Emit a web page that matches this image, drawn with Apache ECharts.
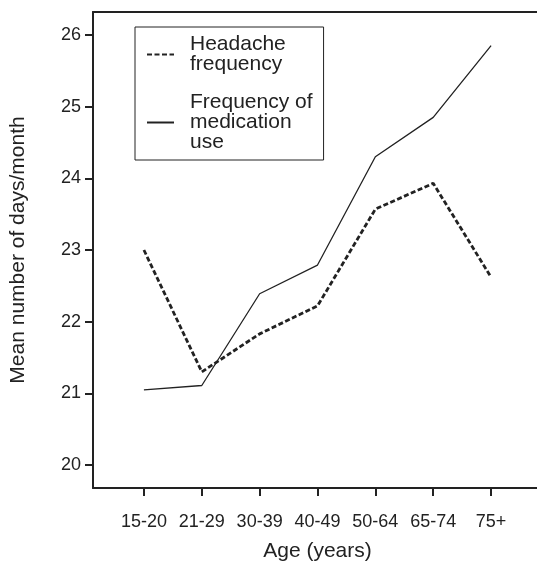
<!DOCTYPE html>
<html>
<head>
<meta charset="utf-8">
<title>Headache and medication by age</title>
<script src="https://cdn.jsdelivr.net/npm/echarts@6/dist/echarts.min.js"></script>
<style>
  html, body { margin: 0; padding: 0; background: #fff; }
  #main { width: 537px; height: 561px; }
</style>
</head>
<body>
<div id="main"></div>
<script>
// data
var ageGroups = ['15-20', '21-29', '30-39', '40-49', '50-64', '65-74', '75+'];
var headacheFreq = [23.0, 21.30, 21.83, 22.22, 23.57, 23.93, 22.62];
var medicationFreq = [21.05, 21.11, 22.39, 22.79, 24.30, 24.85, 25.85];
var yTicks = [20, 21, 22, 23, 24, 25, 26];

var font = "'Liberation Sans', Arial, sans-serif";
var ink = '#222';

function toPoints(values) {
    return values.map(function (v, i) { return [i, v]; });
}
var xTicks = ageGroups.map(function (c, i) { return i; });

var chartDom = document.getElementById('main');
var myChart = echarts.init(chartDom);

var option = {
    animation: false,
    color: [ink, ink],
    textStyle: { fontFamily: font, color: ink },
    grid: {
        left: 93,
        top: 12,
        width: 449,
        height: 476,
        outerBoundsMode: 'none',
        containLabel: false
    },
    legend: {
        orient: 'vertical',
        left: 135,
        top: 27,
        padding: [7, 11, 7, 11],
        itemGap: 17,
        itemWidth: 27,
        itemHeight: 14,
        borderColor: ink,
        borderWidth: 1,
        itemStyle: { opacity: 0 },
        textStyle: { fontSize: 21, lineHeight: 20, color: ink, padding: [0, 0, 0, 11] },
        data: ['Headache frequency', 'Frequency of medication use'],
        formatter: function (name) {
            return name === 'Headache frequency' ? 'Headache\nfrequency' : 'Frequency of\nmedication\nuse';
        }
    },
    xAxis: [{
        type: 'value',
        min: -0.88,
        max: 6.88,
        name: 'Age (years)',
        nameLocation: 'middle',
        nameGap: 53,
        nameTextStyle: { fontSize: 21, color: ink },
        axisLine: { onZero: false, lineStyle: { color: ink, width: 2 } },
        axisTick: { customValues: xTicks, length: 8, lineStyle: { color: ink, width: 2 } },
        axisLabel: {
            customValues: xTicks,
            fontSize: 18,
            color: ink,
            margin: 25,
            formatter: function (v) { return ageGroups[Math.round(v)]; }
        },
        splitLine: { show: false }
    }, {
        // top frame line only
        type: 'value',
        position: 'top',
        min: -0.88,
        max: 6.88,
        axisLine: { onZero: false, lineStyle: { color: ink, width: 2 } },
        axisTick: { show: false },
        axisLabel: { show: false },
        splitLine: { show: false }
    }],
    yAxis: {
        type: 'value',
        min: 19.68,
        max: 26.32,
        name: 'Mean number of days/month',
        nameLocation: 'middle',
        nameGap: 64,
        nameTextStyle: { fontSize: 21, color: ink },
        axisLine: { show: true, onZero: false, lineStyle: { color: ink, width: 2 } },
        axisTick: { show: true, customValues: yTicks, length: 8, lineStyle: { color: ink, width: 2 } },
        axisLabel: { customValues: yTicks, fontSize: 18, color: ink, margin: 12 },
        splitLine: { show: false }
    },
    series: [{
        name: 'Headache frequency',
        type: 'line',
        symbol: 'none',
        data: toPoints(headacheFreq),
        lineStyle: { color: ink, width: 2.8, type: [5, 2.5] }
    }, {
        name: 'Frequency of medication use',
        type: 'line',
        symbol: 'none',
        data: toPoints(medicationFreq),
        lineStyle: { color: ink, width: 1.3 }
    }]
};

option && myChart.setOption(option);
</script>
</body>
</html>
